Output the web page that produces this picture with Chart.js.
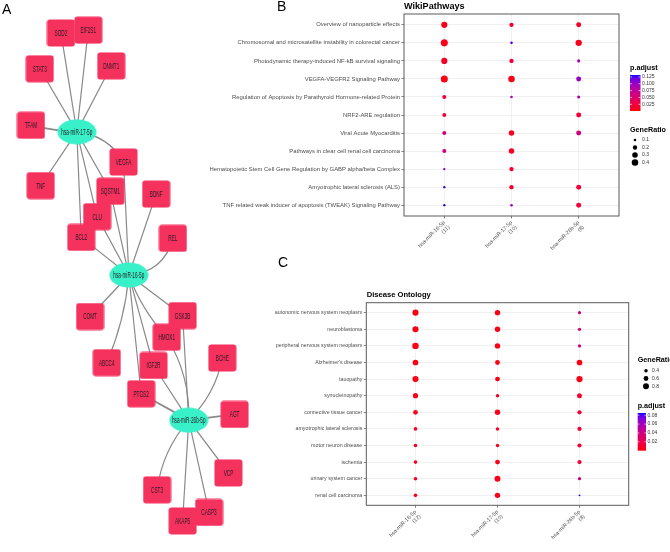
<!DOCTYPE html>
<html><head><meta charset="utf-8">
<script src="https://cdn.jsdelivr.net/npm/chart.js@4.4.1/dist/chart.umd.min.js"></script>
<style>
html,body{margin:0;padding:0;background:#fff;}
body{width:670px;height:552px;position:relative;overflow:hidden;font-family:"Liberation Sans",Arial,sans-serif;}
.wrap{position:absolute;}
.lbl{position:absolute;font-size:14px;line-height:16px;color:#000;}
</style></head><body>
<div class="wrap" style="left:0;top:0;width:270px;height:552px"><canvas id="net"></canvas></div>
<div class="wrap" style="left:200px;top:0;width:470px;height:250px"><canvas id="wiki"></canvas></div>
<div class="wrap" style="left:230px;top:280px;width:440px;height:272px"><canvas id="dis"></canvas></div>
<div class="lbl" style="left:2px;top:1px">A</div>
<div class="lbl" style="left:277px;top:-2px">B</div>
<div class="lbl" style="left:278px;top:254px">C</div>
<script>
// ---------------- Panel A: miRNA-target network ----------------
const netGenes = ['SOD2','EIF2S1','STAT3','DNMT1','TFAM','TNF','VEGFA','BDNF','SQSTM1','CLU','BCL2','REL','COMT','GSK3B','HMOX1','ABCC4','IGF2R','PTGS2','BCHE','AGT','VCP','CST3','CASP3','AKAP5'];
const geneLayoutX = [51,82,27,108,17,28,122,159,107,92,74,178,84,189,171,103,156,142,234,248,241,160,219,189];
const geneLayoutY = [18,15,56,53,116,180,155,189,186,213,235,236,319,318,341,368,371,401,363,423,485,503,527,536];
const netMirs = ['hsa-miR-17-5p','hsa-miR-16-5p','hsa-miR-26b-5p'];
const mirLayoutX = [69,128,196];
const mirLayoutY = [123,275,429];
// [miRNA index, target gene, curvature, line width]
const netEdges = [
  [0,'SOD2',0,1.2],[0,'EIF2S1',0,1.2],[0,'STAT3',0,1.2],[0,'DNMT1',0,1.2],[0,'TFAM',0.04,1.8],
  [0,'TNF',0,1.2],[0,'VEGFA',0.25,1.5],[0,'SQSTM1',0,1.2],[0,'CLU',0,1.2],[0,'BCL2',0,1.2],
  [1,'BCL2',0,1.2],[1,'CLU',0,1.2],[1,'SQSTM1',0,1.2],[1,'VEGFA',0,1.2],[1,'BDNF',0,1.2],
  [1,'REL',-0.35,1.4],[1,'COMT',0,1.3],[1,'ABCC4',0.08,1.2],[1,'GSK3B',0,1.3],[1,'HMOX1',-0.1,1.2],
  [1,'IGF2R',0,1.2],[1,'PTGS2',0,1.2],
  [2,'PTGS2',0,1.8],[2,'IGF2R',0,1.2],[2,'HMOX1',-0.15,1.2],[2,'GSK3B',0,1.2],[2,'BCHE',-0.16,1.2],
  [2,'AGT',0,1.8],[2,'VCP',0,1.3],[2,'CASP3',0,1.2],[2,'AKAP5',0,1.2],[2,'CST3',-0.15,1.2]
];

// ---------------- Panel B: WikiPathways ----------------
const wikiTerms = [
  'Overview of nanoparticle effects',
  'Chromosomal and microsatellite instability in colorectal cancer',
  'Photodynamic therapy-induced NF-kB survival signaling',
  'VEGFA-VEGFR2 Signaling Pathway',
  'Regulation of Apoptosis by Parathyroid Hormone-related Protein',
  'NRF2-ARE regulation',
  'Viral Acute Myocarditis',
  'Pathways in clear cell renal cell carcinoma',
  'Hematopoietic Stem Cell Gene Regulation by GABP alpha/beta Complex',
  'Amyotrophic lateral sclerosis (ALS)',
  'TNF related weak inducer of apoptosis (TWEAK) Signaling Pathway'
];
const wikiGroups = [['hsa-miR-16-5p','(11)'],['hsa-miR-17-5p','(10)'],['hsa-miR-26b-5p','(8)']];
const wikiRatio16 = [0.364,0.455,0.364,0.455,0.182,0.182,0.182,0.182,0.091,0.091,0.091];
const wikiRatio17 = [0.2,0.1,0.2,0.4,0.1,null,0.3,0.3,0.2,0.2,0.1];
const wikiRatio26 = [0.25,0.375,0.125,0.25,0.125,0.25,0.25,null,null,0.25,0.25];
const wikiP16 = [0.008,0.006,0.012,0.005,0.018,0.02,0.055,0.058,0.102,0.128,0.13];
const wikiP17 = [0.018,0.12,0.02,0.006,0.088,null,0.01,0.012,0.015,0.018,0.095];
const wikiP26 = [0.012,0.008,0.095,0.1,0.09,0.02,0.058,null,null,0.02,0.022];
const wikiPRange = [0.0005, 0.132];
const wikiPTicks = [0.025,0.05,0.075,0.1,0.125];
const wikiPTickLabels = ['0.025','0.050','0.075','0.100','0.125'];
const wikiSizeTicks = [0.1,0.2,0.3,0.4];

// ---------------- Panel C: Disease Ontology ----------------
const disTerms = [
  'autonomic nervous system neoplasm','neuroblastoma','peripheral nervous system neoplasm',
  "Alzheimer's disease",'tauopathy','synucleinopathy','connective tissue cancer',
  'amyotrophic lateral sclerosis','motor neuron disease','ischemia','urinary system cancer','renal cell carcinoma'
];
const disGroups = [['hsa-miR-16-5p','(12)'],['hsa-miR-17-5p','(10)'],['hsa-miR-26b-5p','(8)']];
const disRatio16 = [0.833,0.833,0.917,0.75,0.833,0.667,0.583,0.417,0.417,0.417,0.417,0.417];
const disRatio17 = [0.7,0.7,0.7,0.6,0.6,0.4,0.7,0.4,0.4,0.6,0.8,0.7];
const disRatio26 = [0.375,0.375,0.375,0.75,0.875,0.625,0.5,0.5,0.5,0.5,0.375,0.25];
const disP16 = [0.003,0.003,0.003,0.003,0.003,0.004,0.004,0.005,0.005,0.005,0.004,0.004];
const disP17 = [0.003,0.003,0.003,0.004,0.004,0.007,0.004,0.007,0.007,0.005,0.004,0.005];
const disP26 = [0.038,0.038,0.04,0.004,0.004,0.01,0.01,0.012,0.012,0.012,0.045,0.085];
const disPRange = [0.0, 0.085];
const disPTicks = [0.02,0.04,0.06,0.08];
const disPTickLabels = ['0.02','0.04','0.06','0.08'];
const disSizeTicks = [0.4,0.6,0.8];

Chart.defaults.font.family = '"Liberation Sans", Arial, Helvetica, sans-serif';
Chart.defaults.animation = false;

// ---- colour scale red -> blue interpolated in Lab (as ggplot2) ----
function s2l(c){c/=255;return c<=0.04045?c/12.92:Math.pow((c+0.055)/1.055,2.4);}
function l2s(c){c=c<=0.0031308?12.92*c:1.055*Math.pow(c,1/2.4)-0.055;return Math.round(Math.max(0,Math.min(1,c))*255);}
function rgb2lab(rgb){const r=s2l(rgb[0]),g=s2l(rgb[1]),b=s2l(rgb[2]);
  const X=(0.4124*r+0.3576*g+0.1805*b)/0.95047,Y=(0.2126*r+0.7152*g+0.0722*b),Z=(0.0193*r+0.1192*g+0.9505*b)/1.08883;
  const f=t=>t>0.008856?Math.cbrt(t):7.787*t+16/116;
  return [116*f(Y)-16,500*(f(X)-f(Y)),200*(f(Y)-f(Z))];}
function lab2rgb(lab){const fy=(lab[0]+16)/116,fx=fy+lab[1]/500,fz=fy-lab[2]/200;
  const fi=t=>t*t*t>0.008856?t*t*t:(t-16/116)/7.787;
  const X=0.95047*fi(fx),Y=fi(fy),Z=1.08883*fi(fz);
  return [l2s(3.2406*X-1.5372*Y-0.4986*Z),l2s(-0.9689*X+1.8758*Y+0.0415*Z),l2s(0.0557*X-0.2040*Y+1.0570*Z)];}
const LAB_RED=rgb2lab([255,0,0]), LAB_BLUE=rgb2lab([0,0,255]);
function pColor(p, range){let t=(p-range[0])/(range[1]-range[0]);t=Math.max(0,Math.min(1,t));
  const lab=[0,1,2].map(i=>LAB_RED[i]+(LAB_BLUE[i]-LAB_RED[i])*t);const c=lab2rgb(lab);
  return 'rgb('+c[0]+','+c[1]+','+c[2]+')';}

// ---- node images ----
function rectImg(){const c=document.createElement('canvas');c.width=29;c.height=28;const x=c.getContext('2d');
  x.fillStyle='#F5315E';x.beginPath();x.roundRect(0.5,0.5,28,27,3);x.fill();return c;}
function ellImg(){const c=document.createElement('canvas');c.width=40;c.height=26;const x=c.getContext('2d');
  x.fillStyle='#38F1C8';x.beginPath();x.ellipse(20,13,19.5,12.5,0,0,Math.PI*2);x.fill();return c;}

const edgePlugin={id:'edges',beforeDatasetsDraw(chart){
  const ctx=chart.ctx,xs=chart.scales.x,ys=chart.scales.y;
  ctx.save();ctx.strokeStyle='#8a8a8a';ctx.lineCap='round';
  netEdges.forEach(e=>{const gi=netGenes.indexOf(e[1]);
    const x1=xs.getPixelForValue(mirLayoutX[e[0]]),y1=ys.getPixelForValue(mirLayoutY[e[0]]);
    const x2=xs.getPixelForValue(geneLayoutX[gi]),y2=ys.getPixelForValue(geneLayoutY[gi]);
    ctx.lineWidth=e[3];ctx.beginPath();ctx.moveTo(x1,y1);
    if(e[2]){const dx=x2-x1,dy=y2-y1;ctx.quadraticCurveTo((x1+x2)/2+dy*e[2],(y1+y2)/2-dx*e[2],x2,y2);}
    else ctx.lineTo(x2,y2);
    ctx.stroke();});
  ctx.restore();}};
const nodeLabelPlugin={id:'nodeLabels',afterDatasetsDraw(chart){
  const ctx=chart.ctx;
  [[0,netGenes],[1,netMirs]].forEach(([di,names])=>{
    chart.getDatasetMeta(di).data.forEach((el,i)=>{
      ctx.save();ctx.translate(el.x,el.y+0.5);ctx.scale(0.52,1);
      ctx.font='9px "Liberation Sans", Arial, sans-serif';ctx.fillStyle='#2a1a20';
      ctx.textAlign='center';ctx.textBaseline='middle';ctx.fillText(names[i],0,0);ctx.restore();});});}};

new Chart(document.getElementById('net'),{
  type:'scatter',
  data:{datasets:[
    {data:netGenes.map((g,i)=>({x:geneLayoutX[i],y:geneLayoutY[i]})),pointStyle:rectImg(),pointRadius:15,pointHoverRadius:15,clip:false},
    {data:netMirs.map((m,i)=>({x:mirLayoutX[i],y:mirLayoutY[i]})),pointStyle:ellImg(),pointRadius:15,pointHoverRadius:15,clip:false}
  ]},
  options:{responsive:true,maintainAspectRatio:false,events:[],layout:{padding:0},
    plugins:{legend:{display:false},tooltip:{enabled:false}},
    scales:{x:{type:'linear',min:0,max:270,display:false},y:{type:'linear',min:0,max:552,reverse:true,display:false}}},
  plugins:[edgePlugin,nodeLabelPlugin]
});

// ---------------- dot plots ----------------
function dotChart(id,o){
  const datasets=o.ratios.map((rs,gi)=>({
    data:o.terms.map((t,ti)=>rs[ti]==null?null:{x:gi,y:ti,ratio:rs[ti],p:o.pvals[gi][ti]}).filter(Boolean),
    pointRadius:c=>c.raw?o.rad(c.raw.ratio):0,
    pointHoverRadius:c=>c.raw?o.rad(c.raw.ratio):0,
    pointBackgroundColor:c=>c.raw?pColor(c.raw.p,o.pRange):'#000',
    pointBorderWidth:0,clip:false
  }));
  const grid={color:'#EBEBEB',lineWidth:0.7,tickColor:'#333',tickLength:2.5,tickWidth:0.6};
  const deco={id:'deco',afterDraw(chart){
    const ctx=chart.ctx,a=chart.chartArea;ctx.save();
    ctx.strokeStyle='#5a5a5a';ctx.lineWidth=1;ctx.strokeRect(a.left,a.top,a.right-a.left,a.bottom-a.top);
    ctx.fillStyle='#000';ctx.textBaseline='middle';ctx.textAlign='left';
    ctx.font='bold '+o.titleSize+'px "Liberation Sans", Arial, sans-serif';ctx.fillText(o.title,o.titleX,o.titleY);
    const L=o.legend;
    ctx.font='bold 7.2px "Liberation Sans", Arial, sans-serif';
    ctx.fillText('p.adjust',L.cbX,L.cbTitleY);ctx.fillText('GeneRatio',L.cbX,L.szTitleY);
    // colour bar
    const g=ctx.createLinearGradient(0,L.cbTop,0,L.cbBot);
    for(let k=0;k<=20;k++){const t=k/20;g.addColorStop(t,pColor(o.pRange[1]-t*(o.pRange[1]-o.pRange[0]),o.pRange));}
    ctx.fillStyle=g;ctx.fillRect(L.cbX,L.cbTop,L.cbW,L.cbBot-L.cbTop);
    ctx.font='5px "Liberation Sans", Arial, sans-serif';
    o.pTicks.forEach((v,k)=>{const y=L.cbBot-(v-o.pRange[0])/(o.pRange[1]-o.pRange[0])*(L.cbBot-L.cbTop);
      ctx.strokeStyle='#fff';ctx.lineWidth=0.6;ctx.beginPath();ctx.moveTo(L.cbX,y);ctx.lineTo(L.cbX+L.cbW*0.2,y);
      ctx.moveTo(L.cbX+L.cbW*0.8,y);ctx.lineTo(L.cbX+L.cbW,y);ctx.stroke();
      ctx.fillStyle='#333';ctx.fillText(o.pTickLabels[k],L.cbX+L.cbW+1.5,y);});
    o.sizeTicks.forEach((v,k)=>{const y=L.szY0+k*L.szDy;ctx.fillStyle='#000';ctx.beginPath();
      ctx.arc(L.szX,y,o.rad(v),0,Math.PI*2);ctx.fill();ctx.fillStyle='#333';ctx.fillText(String(v),L.szLabX,y);});
    ctx.restore();}};
  return new Chart(document.getElementById(id),{
    type:'scatter',data:{datasets},
    options:{responsive:true,maintainAspectRatio:false,events:[],
      layout:{padding:{top:o.padTop,right:o.padRight,left:0,bottom:0}},
      plugins:{legend:{display:false},tooltip:{enabled:false}},
      scales:{
        x:{type:'linear',min:-0.6,max:o.groups.length-0.4,
          afterBuildTicks:s=>{s.ticks=o.groups.map((g,i)=>({value:i}));},
          afterFit:s=>{s.height=o.xH;},
          ticks:{callback:v=>o.groups[v],minRotation:45,maxRotation:45,autoSkip:false,font:{size:5.4},color:'#4d4d4d',padding:1},
          grid:grid,border:{display:false}},
        y:{type:'linear',min:-0.6,max:o.terms.length-0.4,reverse:true,
          afterBuildTicks:s=>{s.ticks=o.terms.map((t,i)=>({value:i}));},
          afterFit:s=>{s.width=o.yW;},
          ticks:{callback:v=>o.terms[v],autoSkip:false,font:{size:o.ySize},color:'#4d4d4d',padding:1.5},
          grid:grid,border:{display:false}}
      }},
    plugins:[deco]
  });
}

dotChart('wiki',{terms:wikiTerms,groups:wikiGroups,ratios:[wikiRatio16,wikiRatio17,wikiRatio26],pvals:[wikiP16,wikiP17,wikiP26],
  pRange:wikiPRange,pTicks:wikiPTicks,pTickLabels:wikiPTickLabels,sizeTicks:wikiSizeTicks,
  rad:v=>Math.sqrt(Math.max(0.3,1.69+30.2*(v-0.1))),
  padTop:14,padRight:51,xH:34,yW:204,ySize:5.9,title:'WikiPathways',titleSize:9.1,titleX:204,titleY:6,
  legend:{cbX:430,cbTitleY:68,szTitleY:130,cbTop:75,cbBot:111,cbW:10.5,szX:435,szY0:140,szDy:7.5,szLabX:442}});

dotChart('dis',{terms:disTerms,groups:disGroups,ratios:[disRatio16,disRatio17,disRatio26],pvals:[disP16,disP17,disP26],
  pRange:disPRange,pTicks:disPTicks,pTickLabels:disPTickLabels,sizeTicks:disSizeTicks,
  rad:v=>Math.sqrt(Math.max(0.3,0.81+14.5*(v-0.25))),
  padTop:22.7,padRight:41.3,xH:46.7,yW:136.3,ySize:5.3,title:'Disease Ontology',titleSize:7.6,titleX:136.7,titleY:15,
  legend:{cbX:407.7,cbTitleY:126,szTitleY:80,cbTop:133,cbBot:170.7,cbW:8.3,szX:416,szY0:90.7,szDy:7.8,szLabX:422}});
</script>
</body></html>
